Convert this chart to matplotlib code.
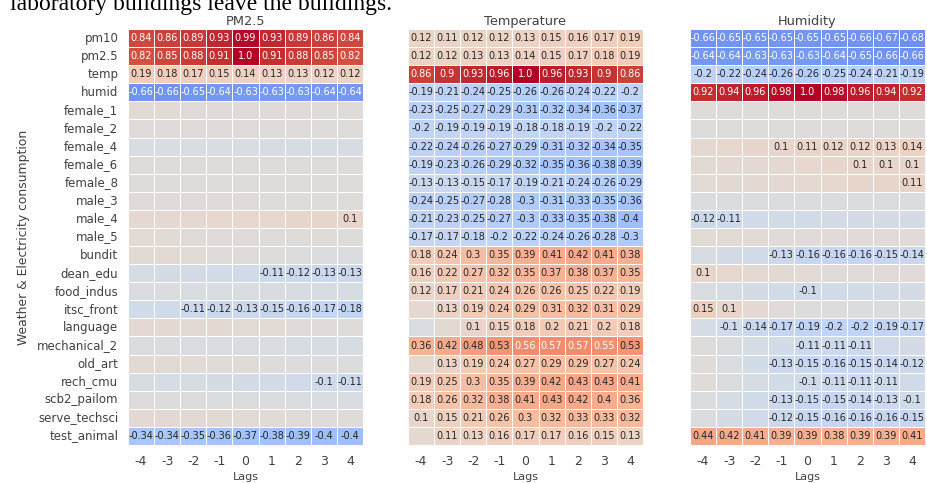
import matplotlib
matplotlib.use("Agg")
import matplotlib.pyplot as plt
import numpy as np
import seaborn as sns

plt.rcParams['font.family'] = ['DejaVu Sans']

lags = [-4, -3, -2, -1, 0, 1, 2, 3, 4]
rows = ["pm10", "pm2.5", "temp", "humid", "female_1", "female_2", "female_4",
        "female_6", "female_8", "male_3", "male_4", "male_5", "bundit", "dean_edu",
        "food_indus", "itsc_front", "language", "mechanical_2", "old_art",
        "rech_cmu", "scb2_pailom", "serve_techsci", "test_animal"]
titles = ["PM2.5", "Temperature", "Humidity"]

pm25_corr = [
    [0.84, 0.86, 0.89, 0.93, 0.99, 0.93, 0.89, 0.86, 0.84],
    [0.82, 0.85, 0.88, 0.91, 1.0, 0.91, 0.88, 0.85, 0.82],
    [0.19, 0.18, 0.17, 0.15, 0.14, 0.13, 0.13, 0.12, 0.12],
    [-0.66, -0.66, -0.65, -0.64, -0.63, -0.63, -0.63, -0.64, -0.64],
    [0.04, 0.04, 0.03, 0.03, 0.03, 0.03, 0.03, 0.02, 0.02],
    [0.03, 0.03, 0.03, 0.03, 0.02, 0.02, 0.02, 0.02, 0.02],
    [-0.03, -0.03, -0.03, -0.03, -0.03, -0.04, -0.04, -0.04, -0.04],
    [0.02, 0.02, 0.02, 0.02, 0.02, 0.01, 0.01, 0.01, 0.01],
    [0.02, 0.02, 0.02, 0.02, 0.02, 0.01, 0.01, 0.01, 0.01],
    [0.03, 0.03, 0.03, 0.03, 0.03, 0.02, 0.02, 0.02, 0.02],
    [0.07, 0.07, 0.07, 0.08, 0.08, 0.08, 0.09, 0.09, 0.1],
    [0.04, 0.04, 0.03, 0.03, 0.03, 0.02, 0.02, 0.02, 0.01],
    [0.05, 0.05, 0.04, 0.03, 0.02, 0.01, 0.0, -0.01, -0.02],
    [-0.05, -0.06, -0.07, -0.08, -0.09, -0.11, -0.12, -0.13, -0.13],
    [-0.02, -0.02, -0.03, -0.03, -0.03, -0.04, -0.04, -0.04, -0.05],
    [-0.08, -0.09, -0.11, -0.12, -0.13, -0.15, -0.16, -0.17, -0.18],
    [0.06, 0.06, 0.05, 0.05, 0.04, 0.04, 0.03, 0.03, 0.02],
    [-0.02, -0.02, -0.03, -0.03, -0.03, -0.03, -0.04, -0.04, -0.04],
    [0.05, 0.05, 0.04, 0.03, 0.02, 0.01, 0.0, 0.0, -0.01],
    [-0.04, -0.05, -0.05, -0.06, -0.07, -0.08, -0.09, -0.1, -0.11],
    [0.01, 0.0, 0.0, -0.01, -0.01, -0.02, -0.02, -0.03, -0.03],
    [0.06, 0.06, 0.05, 0.05, 0.04, 0.04, 0.03, 0.03, 0.02],
    [-0.34, -0.34, -0.35, -0.36, -0.37, -0.38, -0.39, -0.4, -0.4],
]

temp_corr = [
    [0.12, 0.11, 0.12, 0.12, 0.13, 0.15, 0.16, 0.17, 0.19],
    [0.12, 0.12, 0.13, 0.13, 0.14, 0.15, 0.17, 0.18, 0.19],
    [0.86, 0.9, 0.93, 0.96, 1.0, 0.96, 0.93, 0.9, 0.86],
    [-0.19, -0.21, -0.24, -0.25, -0.26, -0.26, -0.24, -0.22, -0.2],
    [-0.23, -0.25, -0.27, -0.29, -0.31, -0.32, -0.34, -0.36, -0.37],
    [-0.2, -0.19, -0.19, -0.19, -0.18, -0.18, -0.19, -0.2, -0.22],
    [-0.22, -0.24, -0.26, -0.27, -0.29, -0.31, -0.32, -0.34, -0.35],
    [-0.19, -0.23, -0.26, -0.29, -0.32, -0.35, -0.36, -0.38, -0.39],
    [-0.13, -0.13, -0.15, -0.17, -0.19, -0.21, -0.24, -0.26, -0.29],
    [-0.24, -0.25, -0.27, -0.28, -0.3, -0.31, -0.33, -0.35, -0.36],
    [-0.21, -0.23, -0.25, -0.27, -0.3, -0.33, -0.35, -0.38, -0.4],
    [-0.17, -0.17, -0.18, -0.2, -0.22, -0.24, -0.26, -0.28, -0.3],
    [0.18, 0.24, 0.3, 0.35, 0.39, 0.41, 0.42, 0.41, 0.38],
    [0.16, 0.22, 0.27, 0.32, 0.35, 0.37, 0.38, 0.37, 0.35],
    [0.12, 0.17, 0.21, 0.24, 0.26, 0.26, 0.25, 0.22, 0.19],
    [0.07, 0.13, 0.19, 0.24, 0.29, 0.31, 0.32, 0.31, 0.29],
    [-0.03, 0.05, 0.1, 0.15, 0.18, 0.2, 0.21, 0.2, 0.18],
    [0.36, 0.42, 0.48, 0.53, 0.56, 0.57, 0.57, 0.55, 0.53],
    [0.07, 0.13, 0.19, 0.24, 0.27, 0.29, 0.29, 0.27, 0.24],
    [0.19, 0.25, 0.3, 0.35, 0.39, 0.42, 0.43, 0.43, 0.41],
    [0.18, 0.26, 0.32, 0.38, 0.41, 0.43, 0.42, 0.4, 0.36],
    [0.1, 0.15, 0.21, 0.26, 0.3, 0.32, 0.33, 0.33, 0.32],
    [0.07, 0.11, 0.13, 0.16, 0.17, 0.17, 0.16, 0.15, 0.13],
]

humid_corr = [
    [-0.66, -0.65, -0.65, -0.65, -0.65, -0.65, -0.66, -0.67, -0.68],
    [-0.64, -0.64, -0.63, -0.63, -0.63, -0.64, -0.65, -0.66, -0.66],
    [-0.2, -0.22, -0.24, -0.26, -0.26, -0.25, -0.24, -0.21, -0.19],
    [0.92, 0.94, 0.96, 0.98, 1.0, 0.98, 0.96, 0.94, 0.92],
    [0.02, 0.02, 0.02, 0.02, 0.02, 0.02, 0.02, 0.02, 0.02],
    [0.01, 0.01, 0.01, 0.01, 0.01, 0.01, 0.01, 0.01, 0.01],
    [0.07, 0.08, 0.09, 0.1, 0.11, 0.12, 0.12, 0.13, 0.14],
    [0.05, 0.06, 0.06, 0.07, 0.08, 0.09, 0.1, 0.1, 0.1],
    [0.04, 0.05, 0.06, 0.06, 0.07, 0.08, 0.09, 0.09, 0.11],
    [-0.02, -0.02, -0.02, -0.02, -0.02, -0.02, -0.02, -0.02, -0.02],
    [-0.12, -0.11, -0.09, -0.08, -0.08, -0.07, -0.07, -0.06, -0.06],
    [0.04, 0.04, 0.04, 0.03, 0.03, 0.03, 0.03, 0.03, 0.03],
    [-0.04, -0.07, -0.09, -0.13, -0.16, -0.16, -0.16, -0.15, -0.14],
    [0.1, 0.08, 0.06, 0.05, 0.04, 0.03, 0.03, 0.03, 0.03],
    [-0.03, -0.05, -0.06, -0.08, -0.1, -0.09, -0.08, -0.07, -0.06],
    [0.15, 0.1, 0.06, 0.03, 0.01, 0.0, -0.01, -0.01, -0.02],
    [-0.05, -0.1, -0.14, -0.17, -0.19, -0.2, -0.2, -0.19, -0.17],
    [0.01, -0.02, -0.05, -0.08, -0.11, -0.11, -0.11, -0.09, -0.07],
    [0.02, -0.03, -0.08, -0.13, -0.15, -0.16, -0.15, -0.14, -0.12],
    [0.03, -0.01, -0.05, -0.08, -0.1, -0.11, -0.11, -0.11, -0.09],
    [-0.01, -0.05, -0.09, -0.13, -0.15, -0.15, -0.14, -0.13, -0.1],
    [-0.02, -0.06, -0.09, -0.12, -0.15, -0.16, -0.16, -0.16, -0.15],
    [0.44, 0.42, 0.41, 0.39, 0.39, 0.38, 0.39, 0.39, 0.41],
]

panels = [pm25_corr, temp_corr, humid_corr]

W, H = 927, 483
fig = plt.figure(figsize=(W / 100, H / 100), dpi=100)

# partially visible caption line from the source document (cut at the top, as in the reference)
fig.text(10 / W, 1 - 10 / H, "laboratory buildings leave the buildings.",
         family="Liberation Serif", fontsize=17, color="black", va="baseline", ha="left")

lefts = [128, 408, 690]
width_px = 235
top_px, bottom_px = 29, 445
txt = "#404040"

for i, (data, title) in enumerate(zip(panels, titles)):
    arr = np.array(data, dtype=float)
    labels = np.array([["" if abs(v) < 0.1 else str(round(v, 2)) for v in r] for r in arr])
    ax = fig.add_axes([lefts[i] / W, 1 - bottom_px / H, width_px / W, (bottom_px - top_px) / H])
    sns.heatmap(arr, ax=ax, cmap="coolwarm", vmin=-1, vmax=1, cbar=False,
                annot=labels, fmt="", annot_kws={"fontsize": 7},
                linewidths=0.6, linecolor="white",
                xticklabels=lags, yticklabels=rows if i == 0 else False)
    ax.set_title(title, fontsize=9.3, color=txt, pad=3)
    ax.set_xlabel("Lags", fontsize=8, color=txt, labelpad=3)
    ax.tick_params(axis="x", length=0, labelsize=9, colors=txt, pad=7)
    ax.tick_params(axis="y", length=0, labelsize=8.5, colors=txt, pad=7)
    plt.setp(ax.get_xticklabels(), rotation=0)
    if i == 0:
        plt.setp(ax.get_yticklabels(), rotation=0)
        ax.set_ylabel("Weather & Electricity consumption", fontsize=8.9, color=txt, labelpad=5)

fig.savefig("out.png", dpi=100)
